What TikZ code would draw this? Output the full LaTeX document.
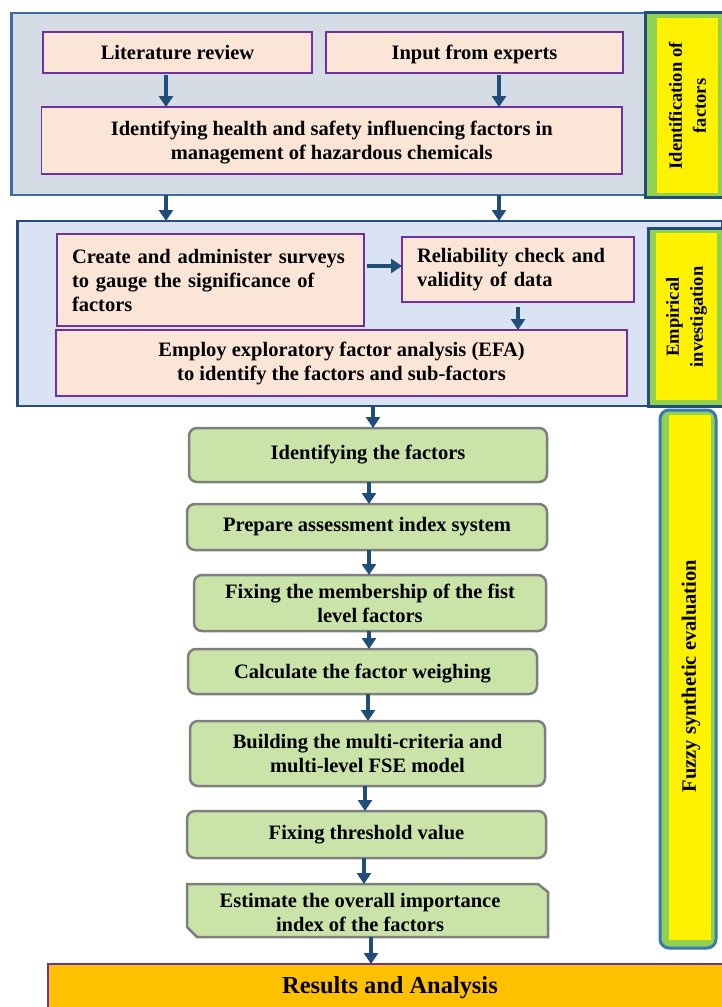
\documentclass[tikz,border=0pt]{standalone}
\usepackage{fontspec}
\setmainfont{Liberation Serif}
\usetikzlibrary{arrows.meta}
\definecolor{arrowblue}{HTML}{1F4E79}
\definecolor{boxonefill}{HTML}{D6DCE5}
\definecolor{boxoneline}{HTML}{3C6EA6}
\definecolor{boxtwofill}{HTML}{DAE3F3}
\definecolor{boxtwoline}{HTML}{264D7C}
\definecolor{salmon}{HTML}{FBE5D6}
\definecolor{purpleline}{HTML}{7030A0}
\definecolor{ringgreen}{HTML}{92D050}
\definecolor{sideline}{HTML}{1F4E79}
\definecolor{fuzzyline}{HTML}{3A78B8}
\definecolor{stepgreen}{HTML}{C9E3A8}
\definecolor{stepline}{HTML}{7F7F7F}
\definecolor{resultfill}{HTML}{FFC000}
\begin{document}
\begin{tikzpicture}[x=1pt,y=-1pt,
  font=\fontsize{20.5}{24}\selectfont\bfseries,
  every node/.style={inner sep=0pt, outer sep=0pt},
  panel/.style={rectangle, line width=2.5pt},
  salmonbox/.style={rectangle, draw=purpleline, fill=salmon, line width=1.3pt, align=center},
  greenring/.style={rectangle, fill=ringgreen},
  yellowin/.style={rectangle, fill=yellow, align=center, font=\fontsize{18.5}{24}\selectfont\bfseries},
  stepbox/.style={rectangle, rounded corners=8pt, draw=stepline, fill=stepgreen, line width=2.5pt, align=center},
  arr/.style={draw=arrowblue, line width=3.5pt, -{Triangle[width=14pt,length=11pt]}}
]
\useasboundingbox (0,0) rectangle (722,1007);
\fill[white] (0,0) rectangle (722,1007);

% ---------- panel 1 ----------
\node[panel, draw=boxoneline, fill=boxonefill, minimum width=633.5pt, minimum height=182pt] (p1) at (328.25,104) {};
\node[greenring, minimum width=77pt, minimum height=185pt] (s1) at (683.5,104.5) {};
\draw[sideline, line width=3pt] (s1.north east) -- (s1.north west) -- (s1.south west) -- (s1.south east);
\node[yellowin, minimum width=61pt, minimum height=175pt] (y1) at (687.5,105.5) {};
\node[rotate=90, align=center, font=\fontsize{18.5}{24}\selectfont\bfseries] (t1) at (687.5,106) {Identification of\\factors};

\node[salmonbox, minimum width=269pt, minimum height=41pt, text depth=0pt] (lit) at (177.5,52.5) {Literature review};
\node[salmonbox, minimum width=297pt, minimum height=41pt, text depth=0pt] (exp) at (474.5,52.5) {Input from experts};
\node[salmonbox, minimum width=580.5pt, minimum height=67pt] (ident) at (331.75,140.5) {\rule{0pt}{19pt}Identifying health and safety influencing factors in\\management of hazardous chemicals};

\coordinate (xa) at (166,0);
\coordinate (xb) at (499,0);
\draw[arr, shorten <=2pt] (lit.south -| xa) -- (ident.north -| xa);
\draw[arr, shorten <=2pt] (exp.south -| xb) -- (ident.north -| xb);

% ---------- panel 2 ----------
\node[panel, draw=boxtwoline, fill=boxtwofill, minimum width=704.5pt, minimum height=185pt] (p2) at (369.75,313.5) {};
\draw[arr] (p1.south -| xa) -- (p2.north -| xa);
\draw[arr] (p1.south -| xb) -- (p2.north -| xb);

\node[greenring, minimum width=74pt, minimum height=178pt] (s2) at (685,317) {};
\draw[sideline, line width=3pt] (s2.north east) -- (s2.north west) -- (s2.south west) -- (s2.south east);
\node[yellowin, minimum width=61pt, minimum height=167pt] (y2) at (686.5,316.5) {};
\node[rotate=90, align=center, font=\fontsize{18.5}{24}\selectfont\bfseries] (t2) at (686.5,317) {Empirical\\investigation};

\node[salmonbox, align=left, text width=277pt, inner xsep=15pt, minimum height=92pt] (create) at (210.5,280) {Create and administer surveys\\to gauge the significance of\\factors};
\node[salmonbox, align=left, text width=202pt, inner xsep=15pt, minimum height=65pt] (rel) at (518,269.5) {Reliability check and\\validity of data};
\node[salmonbox, minimum width=571pt, minimum height=66pt] (efa) at (341.5,363) {Employ exploratory factor analysis (EFA)\\to identify the factors and sub-factors};

\coordinate (yh) at (0,266);
\draw[arr, shorten <=3pt] (create.east |- yh) -- (rel.west |- yh);
\draw[arr, shorten <=5pt] (rel.south) -- (efa.north -| rel.south);

% ---------- fuzzy side ----------
\node[rectangle, rounded corners=9pt, draw=fuzzyline, fill=ringgreen, line width=3pt, minimum width=56pt, minimum height=538pt] (s3) at (688,679) {};
\node[yellowin, minimum width=42pt, minimum height=525pt] (y3) at (690,677.5) {};
\node[rotate=90, font=\fontsize{20.5}{24}\selectfont\bfseries] (t3) at (691,676) {Fuzzy synthetic evaluation};

% ---------- steps ----------
\node[stepbox, minimum width=358pt, minimum height=54pt] (g1) at (368,455) {Identifying the factors};
\node[stepbox, minimum width=360pt, minimum height=46pt] (g2) at (367,527) {Prepare assessment index system};
\node[stepbox, minimum width=352pt, minimum height=56pt] (g3) at (370,603) {Fixing the membership of the fist\\level factors};
\node[stepbox, minimum width=349pt, minimum height=45pt, text depth=0pt] (g4) at (362.5,671.5) {Calculate the factor weighing};
\node[stepbox, minimum width=355pt, minimum height=65pt] (g5) at (367.5,753.5) {Building the multi-criteria and\\multi-level FSE model};
\node[stepbox, minimum width=359pt, minimum height=47pt] (g6) at (366.5,834.5) {Fixing threshold value};
\node[rectangle, minimum width=361pt, minimum height=53pt, align=center] (g7) at (367.5,910.5) {};
\fill[stepgreen, draw=stepline, line width=2.5pt]
  (g7.north west) -- ([xshift=-10pt]g7.north east) -- ([yshift=-8pt]g7.north east)
  -- (g7.south east) -- ([xshift=10pt]g7.south west) -- ([yshift=10pt]g7.south west) -- cycle;
\node[align=center] (g7text) at (360,912) {Estimate the overall importance\\index of the factors};

% ---------- results ----------
\node[rectangle, fill=resultfill, minimum width=674pt, minimum height=43pt, text depth=0pt] (res) at (385,985.5) {\hspace*{10pt}\fontsize{24.4}{28}\selectfont Results and Analysis};
\draw[purpleline, line width=1.3pt] (res.south west) -- (res.north west) -- (res.north east);

\coordinate (x373) at (373,0);
\coordinate (x369) at (369,0);
\coordinate (x368) at (368,0);
\coordinate (x365) at (365,0);
\coordinate (x364) at (364,0);
\coordinate (x371) at (371,0);
\draw[arr] (p2.south -| x373) -- (g1.north -| x373);
\draw[arr] (g1.south -| x369) -- (g2.north -| x369);
\draw[arr] (g2.south -| x369) -- (g3.north -| x369);
\draw[arr] (g3.south -| x369) -- (g4.north -| x369);
\draw[arr] (g4.south -| x368) -- (g5.north -| x368);
\draw[arr] (g5.south -| x365) -- (g6.north -| x365);
\draw[arr] (g6.south -| x364) -- (g7.north -| x364);
\draw[arr] (g7.south -| x371) -- (res.north -| x371);
\end{tikzpicture}
\end{document}
